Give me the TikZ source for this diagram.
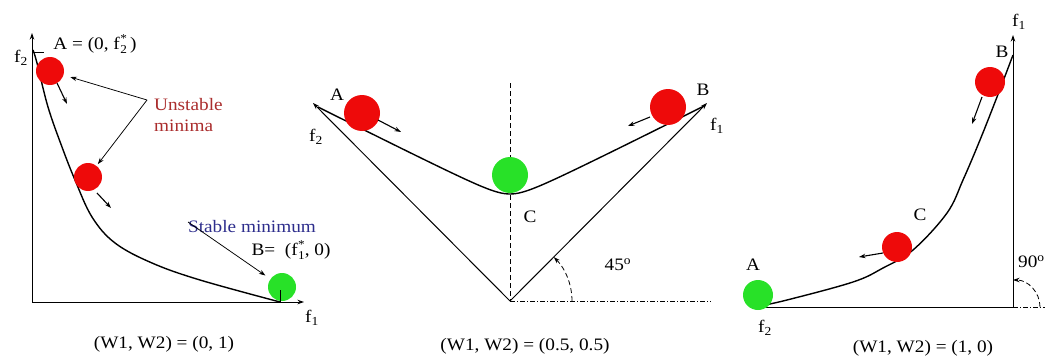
\documentclass[tikz,border=0pt]{standalone}
\usepackage{fontspec}
\setmainfont{Liberation Serif}
\usetikzlibrary{arrows.meta}
\definecolor{ballred}{RGB}{238,10,10}
\definecolor{ballgreen}{RGB}{40,225,40}
\definecolor{unst}{RGB}{170,45,45}
\definecolor{stab}{RGB}{45,45,140}
\newcommand{\fsup}[1]{f\kern0.5pt\raisebox{-4pt}{\fontsize{12}{9}\selectfont\shortstack{*\\#1}}}
\begin{document}
\begin{tikzpicture}[x=1pt,y=-1pt,
  >={Stealth[length=6.5pt,width=4.5pt]},
  lab/.style={font=\fontsize{17.5}{21}\selectfont, inner sep=0pt, xscale=1.1},
  axis/.style={line width=1pt},
  curve/.style={line width=1.4pt},
  ptr/.style={line width=0.75pt},
  barrow/.style={line width=1.1pt,->},
  rball/.style={circle, fill=ballred, inner sep=0pt, minimum size=#1},
  gball/.style={circle, fill=ballgreen, inner sep=0pt, minimum size=#1},
  dashdot/.style={line width=0.8pt, dash pattern=on 5pt off 2pt on 1pt off 2pt},
  vdash/.style={line width=0.8pt, dash pattern=on 5pt off 3pt}]
\useasboundingbox (0,0) rectangle (1045,364);
% ---------------- panel 1 ----------------
\coordinate (o1) at (32,302);
\coordinate (y1) at (32,33);
\coordinate (x1) at (304,302);
\draw[axis,->] (o1) -- (y1);
\draw[axis,->] (o1) -- (x1);
\coordinate (t1a) at (32,52);
\coordinate (t1b) at (44,52);
\draw[axis] (t1a) -- (t1b);
\draw[curve] plot[smooth,tension=0.6] coordinates {(33,50) (37,63) (48,107) (62,147) (75,180) (92,217) (115,243) (152,263) (200,280) (280,302)};
\node[rball=28pt] (b1) at (50,71) {};
\node[rball=28pt] (b2) at (88,177) {};
\node[gball=28pt] (g1) at (282,287) {};
\coordinate (t2a) at (280,290);
\coordinate (t2b) at (280,302);
\draw[ptr] (t2a) -- (t2b);
\coordinate (b1s) at (57,83); \coordinate (b1e) at (67,104);
\draw[barrow] (b1s) -- (b1e);
\coordinate (b2s) at (97,193); \coordinate (b2e) at (111,208);
\draw[barrow] (b2s) -- (b2e);
\node[lab] (Alab) at (95,44) {A = (0, \fsup{2}\,)};
\node[lab] (f2a) at (21,58) {f\textsubscript{2}};
\node[lab] (f1a) at (312,318) {f\textsubscript{1}};
\node[lab,text=unst,align=left,anchor=west] (un) at (154,115) {Unstable\\minima};
\coordinate (up) at (147,100);
\draw[ptr,->,shorten >=7pt] (up) -- (b1);
\draw[ptr,->,shorten >=2pt] (up) -- (b2);
\node[lab,text=stab] (st) at (252,227) {Stable minimum};
\node[lab] (Blab) at (291,250) {B=\ \ (\fsup{1}, 0)};
\coordinate (sp) at (188,222);
\draw[ptr,->,shorten >=6pt] (sp) -- (g1);
\node[lab] (c1) at (164,344) {(W1, W2) = (0, 1)};
% ---------------- panel 2 ----------------
\coordinate (v) at (510,301);
\coordinate (l2) at (313,103);
\coordinate (r2) at (707,103);
\coordinate (d2) at (510,83);
\coordinate (h2) at (711,301);
\draw[axis,->] (v) -- (l2);
\draw[axis,->] (v) -- (r2);
\draw[vdash] (d2) -- (v);
\draw[dashdot] (v) -- (h2);
\draw[curve] plot[domain=-192:193, samples=80, smooth] ({510+\x}, {203.5 - sqrt(90.25+(0.5*\x)*(0.5*\x))});
\node[rball=36pt] (bA) at (362,113) {};
\node[gball=36pt] (bC) at (510,175) {};
\node[rball=36pt] (bB) at (668,107) {};
\coordinate (bAs) at (378,120); \coordinate (bAe) at (401,132);
\draw[barrow] (bAs) -- (bAe);
\coordinate (bBs) at (650,117); \coordinate (bBe) at (628,126);
\draw[barrow] (bBs) -- (bBe);
\coordinate (arc2) at (572,301);
\draw[vdash,->] (arc2) arc[start angle=0,end angle=45,radius=62pt];
\node[lab] (A2) at (337,95) {A};
\node[lab] (f22) at (316,137) {f\textsubscript{2}};
\node[lab] (C2) at (530,217) {C};
\node[lab] (B2) at (703,90) {B};
\node[lab] (f12) at (717,126) {f\textsubscript{1}};
\node[lab] (ang2) at (618,265) {45\textsuperscript{o}};
\node[lab] (c2) at (525,346) {(W1, W2) = (0.5, 0.5)};
% ---------------- panel 3 ----------------
\coordinate (o3) at (1013,307);
\coordinate (y3) at (1013,35);
\coordinate (x3) at (752,307);
\coordinate (h3) at (1045,307);
\draw[axis,->] (o3) -- (y3);
\draw[axis,->] (o3) -- (x3);
\draw[dashdot] (o3) -- (h3);
\draw[curve] plot[smooth,tension=0.6] coordinates {(755,307) (787,300) (853,282) (883,268) (913,250) (947,213) (963,180) (980,140) (997,97) (1013,55)};
\node[gball=30pt] (g3) at (758,295) {};
\node[rball=30pt] (c3b) at (897,247) {};
\node[rball=30pt] (b3b) at (990,82) {};
\coordinate (c3s) at (883,253); \coordinate (c3e) at (859,257);
\draw[barrow] (c3s) -- (c3e);
\coordinate (b3s) at (982,97); \coordinate (b3e) at (972,124);
\draw[barrow] (b3s) -- (b3e);
\coordinate (arc3) at (1040,307);
\draw[vdash,->] (arc3) arc[start angle=0,end angle=90,radius=27pt];
\node[lab] (A3) at (753,265) {A};
\node[lab] (f23) at (765,328) {f\textsubscript{2}};
\node[lab] (C3) at (920,215) {C};
\node[lab] (B3) at (1002,52) {B};
\node[lab] (f13) at (1019,22) {f\textsubscript{1}};
\node[lab,anchor=west] (ang3) at (1018,262) {90\textsuperscript{o}};
\node[lab] (c3) at (923,348) {(W1, W2) = (1, 0)};
\end{tikzpicture}
\end{document}
